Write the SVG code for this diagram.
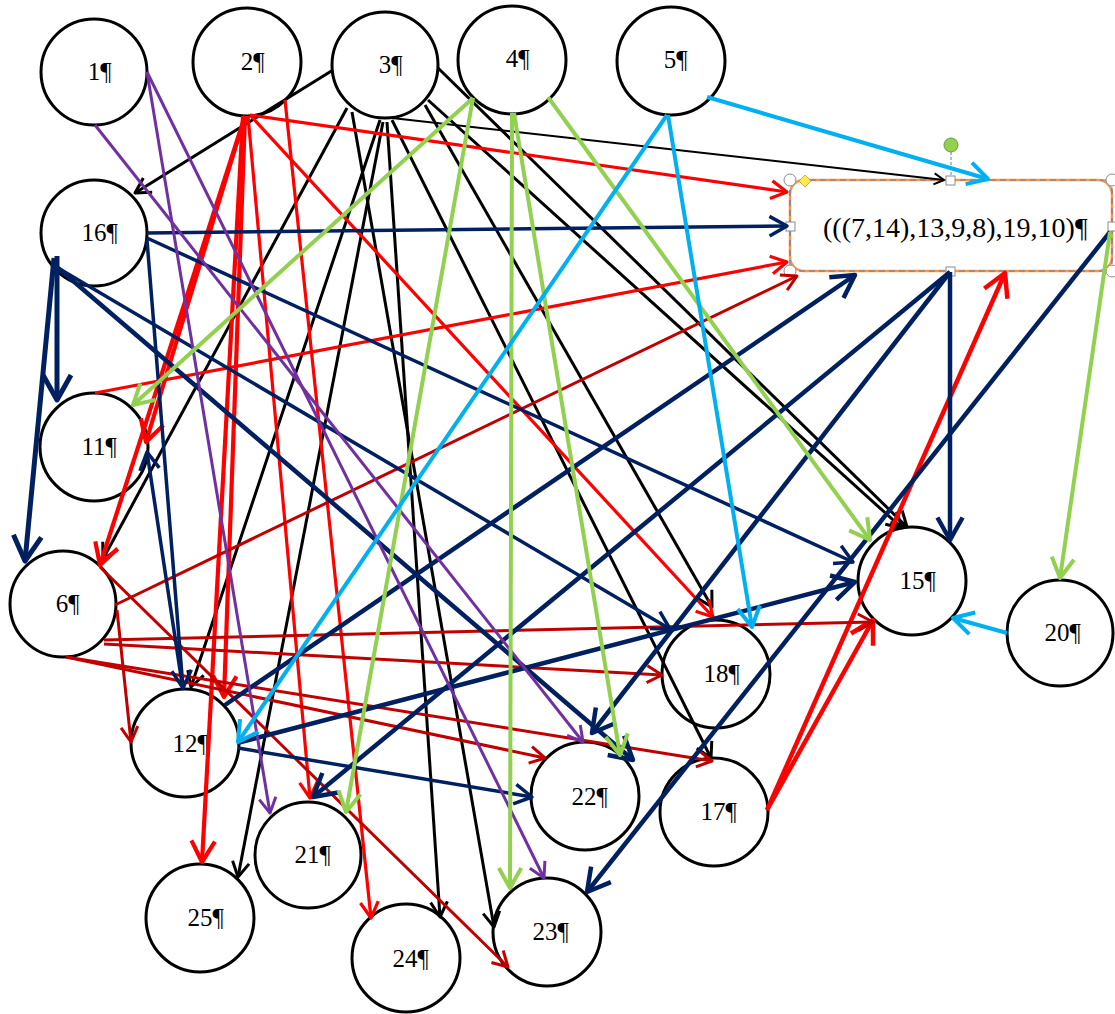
<svg xmlns="http://www.w3.org/2000/svg" width="1115" height="1014" viewBox="0 0 1115 1014">
  <style>
    .node circle { fill: #fff; stroke: #000; stroke-width: 3; }
    .node text { font-family: "Liberation Serif", "Times New Roman", serif; font-size: 25px; fill: #000; }
    #connectors line { fill: none; stroke-linecap: butt; }
    .k { stroke: #000; stroke-width: 3; marker-end: url(#ak); }
    .k2 { stroke: #000; stroke-width: 2; marker-end: url(#ak); }
    .r { stroke: #FF0000; stroke-width: 3.2; marker-end: url(#ar); }
    .rb { stroke: #FF0000; stroke-width: 4.2; marker-end: url(#ar); }
    .rt { stroke: #FF0000; stroke-width: 4.5; marker-end: url(#ar); }
    .dr { stroke: #C00000; stroke-width: 3; marker-end: url(#adr); }
    .n { stroke: #002060; stroke-width: 3.5; marker-end: url(#an); }
    .nt { stroke: #002060; stroke-width: 4.5; marker-end: url(#an); }
    .p { stroke: #7030A0; stroke-width: 3; marker-end: url(#ap); }
    .g { stroke: #92D050; stroke-width: 4; marker-end: url(#ag); }
    .b { stroke: #00B0F0; stroke-width: 4; marker-end: url(#ab); }
    .handle { fill: #fff; stroke: #8C8C8C; stroke-width: 1; }
  </style>
  <defs>
    <!-- open "V" arrowheads, one per line colour, scaled by stroke width -->
    <marker id="ak" viewBox="-7 -4 8 8" markerWidth="8" markerHeight="8" refX="0" refY="0" orient="auto" markerUnits="strokeWidth" overflow="visible">
      <path d="M-5,-2.8 L0,0 L-5,2.8" fill="none" stroke="#000" stroke-width="1" stroke-linejoin="round"/>
    </marker>
    <marker id="ar" viewBox="-7 -4 8 8" markerWidth="8" markerHeight="8" refX="0" refY="0" orient="auto" markerUnits="strokeWidth" overflow="visible">
      <path d="M-5,-2.8 L0,0 L-5,2.8" fill="none" stroke="#FF0000" stroke-width="1" stroke-linejoin="round"/>
    </marker>
    <marker id="adr" viewBox="-7 -4 8 8" markerWidth="8" markerHeight="8" refX="0" refY="0" orient="auto" markerUnits="strokeWidth" overflow="visible">
      <path d="M-5,-2.8 L0,0 L-5,2.8" fill="none" stroke="#C00000" stroke-width="1" stroke-linejoin="round"/>
    </marker>
    <marker id="an" viewBox="-7 -4 8 8" markerWidth="8" markerHeight="8" refX="0" refY="0" orient="auto" markerUnits="strokeWidth" overflow="visible">
      <path d="M-5,-2.8 L0,0 L-5,2.8" fill="none" stroke="#002060" stroke-width="1" stroke-linejoin="round"/>
    </marker>
    <marker id="ap" viewBox="-7 -4 8 8" markerWidth="8" markerHeight="8" refX="0" refY="0" orient="auto" markerUnits="strokeWidth" overflow="visible">
      <path d="M-5,-2.8 L0,0 L-5,2.8" fill="none" stroke="#7030A0" stroke-width="1" stroke-linejoin="round"/>
    </marker>
    <marker id="ag" viewBox="-7 -4 8 8" markerWidth="8" markerHeight="8" refX="0" refY="0" orient="auto" markerUnits="strokeWidth" overflow="visible">
      <path d="M-5,-2.8 L0,0 L-5,2.8" fill="none" stroke="#92D050" stroke-width="1" stroke-linejoin="round"/>
    </marker>
    <marker id="ab" viewBox="-7 -4 8 8" markerWidth="8" markerHeight="8" refX="0" refY="0" orient="auto" markerUnits="strokeWidth" overflow="visible">
      <path d="M-5,-2.8 L0,0 L-5,2.8" fill="none" stroke="#00B0F0" stroke-width="1" stroke-linejoin="round"/>
    </marker>
  </defs>

  <rect width="1115" height="1014" fill="#fff"/>

  <!-- circular nodes -->
  <g id="n1" class="node"><circle cx="94" cy="72" r="53"/><text x="87.8" y="80">1¶</text></g>
  <g id="n2" class="node"><circle cx="247" cy="62" r="54"/><text x="240.8" y="70">2¶</text></g>
  <g id="n3" class="node"><circle cx="385" cy="65" r="53"/><text x="378.8" y="73">3¶</text></g>
  <g id="n4" class="node"><circle cx="512" cy="60" r="54"/><text x="505.8" y="67">4¶</text></g>
  <g id="n5" class="node"><circle cx="671" cy="61" r="54"/><text x="663.8" y="68">5¶</text></g>
  <g id="n16" class="node"><circle cx="94" cy="233" r="53"/><text x="81.5" y="241">16¶</text></g>
  <g id="n11" class="node"><circle cx="94" cy="447" r="54"/><text x="81.5" y="455">11¶</text></g>
  <g id="n6" class="node"><circle cx="63" cy="604" r="53"/><text x="55.8" y="612">6¶</text></g>
  <g id="n12" class="node"><circle cx="185" cy="743" r="54"/><text x="172.5" y="752">12¶</text></g>
  <g id="n25" class="node"><circle cx="200" cy="918" r="54"/><text x="187.5" y="926">25¶</text></g>
  <g id="n21" class="node"><circle cx="308" cy="855" r="53"/><text x="294.5" y="863">21¶</text></g>
  <g id="n24" class="node"><circle cx="406" cy="958" r="54"/><text x="392.5" y="967">24¶</text></g>
  <g id="n23" class="node"><circle cx="547" cy="932" r="54"/><text x="532.5" y="940">23¶</text></g>
  <g id="n22" class="node"><circle cx="585" cy="796" r="54"/><text x="571.5" y="805">22¶</text></g>
  <g id="n17" class="node"><circle cx="714" cy="812" r="54"/><text x="700.5" y="820">17¶</text></g>
  <g id="n18" class="node"><circle cx="716" cy="674" r="54"/><text x="703.5" y="682">18¶</text></g>
  <g id="n15" class="node"><circle cx="912" cy="581" r="54"/><text x="899.5" y="589">15¶</text></g>
  <g id="n20" class="node"><circle cx="1060" cy="633" r="53"/><text x="1044.5" y="641">20¶</text></g>

  <!-- grouped node shown with its selection frame and handles -->
  <g id="nbox">
    <rect x="790" y="180" width="322" height="91" rx="14" fill="#fff" stroke="#F79646" stroke-width="2.5"/>
    <rect x="790" y="180" width="322" height="91" fill="none" stroke="#5B7DB1" stroke-width="1.2" stroke-dasharray="6 4"/>
    <text x="823" y="237" font-family="Liberation Serif, Times New Roman, serif" font-size="28" fill="#000">(((7,14),13,9,8),19,10)¶</text>
    <line x1="951" y1="152" x2="951" y2="176" stroke="#5B7DB1" stroke-width="1" stroke-dasharray="3 2"/>
    <circle cx="951" cy="145" r="7" fill="#92D050" stroke="#6E9C3A" stroke-width="1"/>
    <circle class="handle" cx="790" cy="180" r="6"/>
    <circle class="handle" cx="1112" cy="180" r="6"/>
    <circle class="handle" cx="790" cy="271" r="6"/>
    <circle class="handle" cx="1112" cy="271" r="6"/>
    <rect class="handle" x="946" y="176" width="9" height="9"/>
    <rect class="handle" x="946" y="267" width="9" height="9"/>
    <rect class="handle" x="786" y="222" width="9" height="9"/>
    <rect class="handle" x="1108" y="222" width="9" height="9"/>
    <path d="M805,175 L811,181 L805,187 L799,181 Z" fill="#FFE94D" stroke="#B8A640" stroke-width="0.8"/>
  </g>

  <g id="connectors">
    <!-- from 3 -->
    <line class="k" x1="333" y1="70" x2="135" y2="193"/>
    <line class="k2" x1="392" y1="118" x2="944" y2="180"/>
    <line class="k" x1="347" y1="108" x2="103" y2="559"/>
    <line class="k" x1="380" y1="120" x2="191" y2="687"/>
    <line class="k" x1="383" y1="122" x2="238" y2="877"/>
    <line class="k" x1="387" y1="122" x2="440" y2="917"/>
    <line class="k" x1="352" y1="112" x2="494" y2="927"/>
    <line class="k" x1="392" y1="120" x2="711" y2="758"/>
    <line class="k" x1="425" y1="105" x2="712" y2="607"/>
    <line class="k" x1="438" y1="68" x2="907" y2="527"/>
    <line class="k" x1="428" y1="100" x2="902" y2="528"/>
    <!-- from 2 -->
    <line class="r" x1="250" y1="115" x2="787" y2="192"/>
    <line class="r" x1="250" y1="115" x2="713" y2="617"/>
    <line class="rb" x1="245" y1="116" x2="146" y2="442"/>
    <line class="rb" x1="245" y1="116" x2="100" y2="565"/>
    <line class="rb" x1="245" y1="116" x2="224" y2="697"/>
    <line class="rb" x1="243" y1="116" x2="202" y2="862"/>
    <line class="r" x1="248" y1="116" x2="310" y2="798"/>
    <line class="r" x1="285" y1="100" x2="371" y2="918"/>
    <!-- from 11 and 17 -->
    <line class="r" x1="95" y1="393" x2="787" y2="262"/>
    <line class="rt" x1="767" y1="810" x2="873" y2="620"/>
    <line class="rt" x1="767" y1="810" x2="1005" y2="273"/>
    <!-- from 6 -->
    <line class="dr" x1="115" y1="605" x2="797" y2="276"/>
    <line class="dr" x1="117" y1="610" x2="131" y2="742"/>
    <line class="dr" x1="104" y1="640" x2="873" y2="622"/>
    <line class="dr" x1="104" y1="644" x2="662" y2="675"/>
    <line class="dr" x1="66" y1="657" x2="545" y2="758"/>
    <line class="dr" x1="66" y1="657" x2="712" y2="761"/>
    <line class="dr" x1="100" y1="567" x2="508" y2="967"/>
    <!-- from 16 -->
    <line class="n" x1="147" y1="233" x2="787" y2="226"/>
    <line class="n" style="stroke-width:5" x1="57" y1="256" x2="57" y2="400"/>
    <line class="n" style="stroke-width:5" x1="54" y1="258" x2="25" y2="561"/>
    <line class="n" x1="147" y1="240" x2="183" y2="688"/>
    <line class="n" x1="147" y1="238" x2="853" y2="562"/>
    <line class="n" x1="58" y1="268" x2="670" y2="629"/>
    <line class="nt" x1="58" y1="268" x2="633" y2="760"/>
    <!-- from the grouped node -->
    <line class="nt" x1="950" y1="272" x2="950" y2="540"/>
    <line class="nt" x1="950" y1="272" x2="592" y2="733"/>
    <line class="nt" x1="950" y1="272" x2="313" y2="797"/>
    <line class="nt" x1="1110" y1="232" x2="587" y2="892"/>
    <line class="g" x1="1110" y1="232" x2="1060" y2="578"/>
    <!-- from 12 -->
    <line class="nt" x1="225" y1="705" x2="855" y2="275"/>
    <line class="nt" x1="237" y1="743" x2="855" y2="582"/>
    <line class="n" x1="238" y1="748" x2="532" y2="797"/>
    <line class="n" x1="183" y1="690" x2="147" y2="452"/>
    <!-- from 1 -->
    <line class="p" x1="147" y1="72" x2="270" y2="813"/>
    <line class="p" x1="147" y1="72" x2="544" y2="878"/>
    <line class="p" x1="95" y1="125" x2="583" y2="742"/>
    <!-- from 4 -->
    <line class="g" x1="473" y1="98" x2="133" y2="405"/>
    <line class="g" x1="473" y1="98" x2="346" y2="812"/>
    <line class="g" x1="512" y1="113" x2="510" y2="888"/>
    <line class="g" x1="514" y1="113" x2="620" y2="755"/>
    <line class="g" x1="548" y1="97" x2="870" y2="540"/>
    <!-- from 5 and 20 -->
    <line class="b" x1="707" y1="97" x2="988" y2="179"/>
    <line class="b" x1="667" y1="115" x2="238" y2="742"/>
    <line class="b" x1="668" y1="115" x2="752" y2="627"/>
    <line class="b" x1="1007" y1="633" x2="953" y2="618"/>
  </g>
</svg>
